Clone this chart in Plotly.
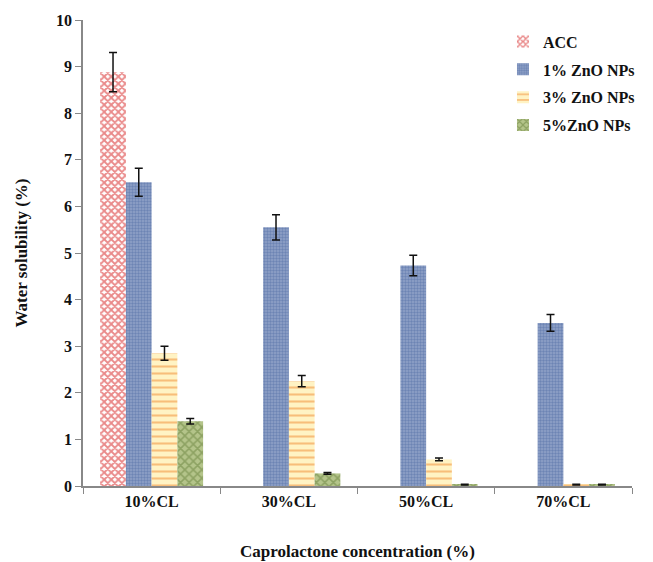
import plotly.graph_objects as go

categories = ["10%CL", "30%CL", "50%CL", "70%CL"]
series_names = ["ACC", "1% ZnO NPs", "3% ZnO NPs", "5%ZnO NPs"]
acc = [8.88, None, None, None]
acc_err = [0.42, None, None, None]
zno1 = [6.52, 5.55, 4.73, 3.50]
zno1_err = [0.30, 0.27, 0.22, 0.18]
zno3 = [2.85, 2.25, 0.57, 0.03]
zno3_err = [0.15, 0.12, 0.03, 0.01]
zno5 = [1.39, 0.27, 0.03, 0.03]
zno5_err = [0.06, 0.02, 0.01, 0.01]

styles = [
    dict(shape="x", fg="#d41414", bg="#ffffff", size=5, sol=0.6),
    dict(shape=".", fg="#4a66a0", bg="#90a2c8", size=3, sol=0.5),
    dict(shape="-", fg="#f08a30", bg="#fff3c4", size=7, sol=0.3),
    dict(shape="x", fg="#66803a", bg="#b4c48a", size=6, sol=0.45),
]

fig = go.Figure()
for name, vals, errs, st in zip(series_names, [acc, zno1, zno3, zno5],
                                [acc_err, zno1_err, zno3_err, zno5_err], styles):
    fig.add_trace(go.Bar(
        x=categories, y=vals, name=name, legendgroup=name,
        marker=dict(color=st["bg"], line=dict(width=0),
                    pattern=dict(shape=st["shape"], fgcolor=st["fg"], bgcolor=st["bg"],
                                 size=st["size"], solidity=st["sol"], fillmode="overlay")),
        error_y=dict(type="data", array=errs, visible=True, color="#111111",
                     thickness=1.5, width=4),
    ))

font_family = "Liberation Serif"
fig.update_layout(
    width=653, height=562,
    barmode="group", bargap=0.25, bargroupgap=0,
    plot_bgcolor="white", paper_bgcolor="white",
    margin=dict(l=75, r=29, t=12, b=84, autoexpand=False),
    font=dict(family=font_family, size=16, color="#111111"),
    showlegend=True,
    legend=dict(x=0.765, y=0.99, xanchor="left", yanchor="top",
                font=dict(family=font_family, size=16, color="#111111", weight="bold"),
                bgcolor="rgba(0,0,0,0)", itemwidth=30, tracegroupgap=4),
    xaxis=dict(
        automargin=False,
        showline=True, linecolor="#888888", linewidth=1.5,
        ticks="outside", ticklen=6, tickcolor="#888888", tickson="boundaries",
        tickfont=dict(family=font_family, size=16, color="#111111", weight="bold"),
        title=dict(text="<b>Caprolactone concentration (%)</b>",
                   font=dict(family=font_family, size=17, color="#111111"), standoff=36),
        showgrid=False,
    ),
    yaxis=dict(
        automargin=False,
        range=[0, 10], dtick=1,
        showline=True, linecolor="#888888", linewidth=1.5,
        ticks="outside", ticklen=6, tickcolor="#888888",
        tickfont=dict(family=font_family, size=16, color="#111111", weight="bold"),
        title=dict(text="<b>Water solubility (%)</b>",
                   font=dict(family=font_family, size=17, color="#111111"), standoff=24),
        showgrid=False, zeroline=False,
    ),
)

fig.write_html("out.html")
